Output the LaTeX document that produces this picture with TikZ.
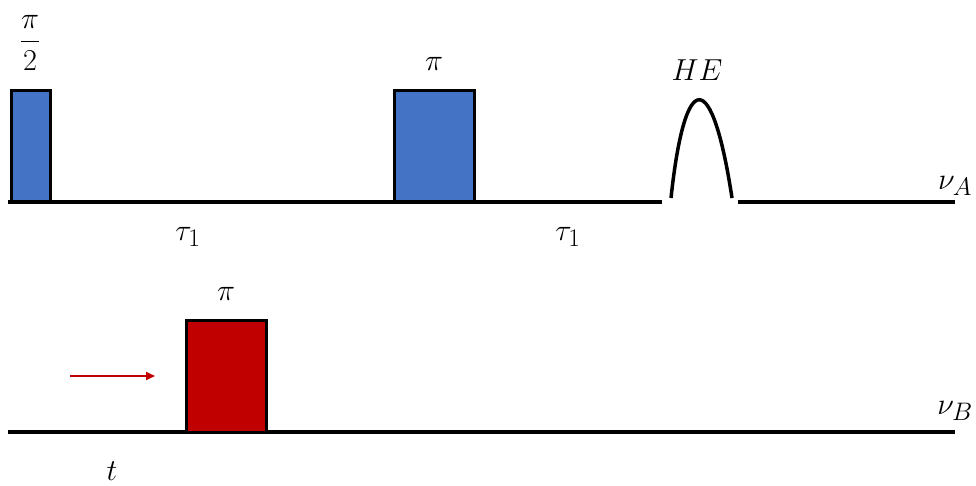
\documentclass[tikz,border=0pt]{standalone}
\usepackage{amsmath}
\usepackage{graphicx}
\usetikzlibrary{arrows.meta}
\definecolor{pblue}{HTML}{4472C4}
\definecolor{pred}{HTML}{C00000}
\newcommand{\biglbl}[1]{\scalebox{1.22}{\Huge #1}}
\begin{document}
\begin{tikzpicture}[x=1pt,y=-1pt,
  base/.style={line width=4pt},
  pulse/.style={draw=black,line width=3pt},
  lbl/.style={inner sep=0pt}]
\useasboundingbox (0,0) rectangle (976,486);
% channel A
\coordinate (a0) at (8,202);
\coordinate (a1) at (662,202);
\coordinate (a2) at (738,202);
\coordinate (a3) at (955,202);
\draw[base] (a0) -- (a1);
\draw[base] (a2) -- (a3);
\filldraw[pulse,fill=pblue] (11,202) rectangle (50,91);
\filldraw[pulse,fill=pblue] (394,202) rectangle (474,91);
\coordinate (h0) at (671,198);
\coordinate (h1) at (732,198);
\draw[line width=3.5pt] (h0) .. controls (685,67) and (712,67) .. (h1);
\node[lbl] (lpi2) at (30,43) {\biglbl{$\dfrac{\pi}{2}$}};
\node[lbl] (lpiA) at (434,64) {\biglbl{$\pi$}};
\node[lbl] (lhe) at (697,70) {\biglbl{$HE$}};
\node[lbl] (lnuA) at (955,186) {\biglbl{$\nu_A$}};
\node[lbl] (ltau1) at (188,237) {\biglbl{$\tau_1$}};
\node[lbl] (ltau2) at (568,237) {\biglbl{$\tau_1$}};
% channel B
\coordinate (b0) at (8,432);
\coordinate (b1) at (955,432);
\draw[base] (b0) -- (b1);
\filldraw[pulse,fill=pred] (186,432) rectangle (266,320);
\node[lbl] (lpiB) at (226,294) {\biglbl{$\pi$}};
\node[lbl] (lnuB) at (955,411) {\biglbl{$\nu_B$}};
\node[lbl] (lt) at (112,471) {\biglbl{$t$}};
\coordinate (r0) at (70,376);
\coordinate (r1) at (155,376);
\draw[pred,line width=1.8pt,-{Triangle[length=9pt,width=8pt]}] (r0) -- (r1);
\end{tikzpicture}
\end{document}
